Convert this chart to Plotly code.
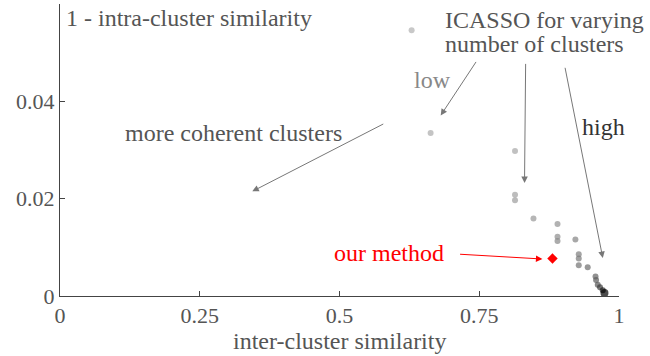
import plotly.graph_objects as go

# ICASSO results for varying number of clusters (low -> high)
icasso_inter = [0.629, 0.663, 0.814, 0.814, 0.814, 0.847, 0.890, 0.890, 0.890,
                0.922, 0.928, 0.928, 0.928, 0.944, 0.958, 0.959, 0.962, 0.966,
                0.971, 0.974]
icasso_intra = [0.0546, 0.0335, 0.0298, 0.0208, 0.0197, 0.0159, 0.0148, 0.0122,
                0.0113, 0.0116, 0.0086, 0.0077, 0.0063, 0.0059, 0.0040, 0.0033,
                0.0023, 0.0018, 0.0012, 0.0006]
our_inter = [0.881]
our_intra = [0.0077]

x_ticks = [0, 0.25, 0.5, 0.75, 1]
x_tick_labels = ["0", "0.25", "0.5", "0.75", "1"]
y_ticks = [0, 0.02, 0.04]
y_tick_labels = ["0", "0.02", "0.04"]

FONT = "Liberation Serif"
TXT = 24
n = len(icasso_inter)
shade = [i / (n - 1) for i in range(n)]
sizes = [6] * (n - 1) + [8]

fig = go.Figure()
fig.add_trace(go.Scatter(
    x=icasso_inter, y=icasso_intra, mode="markers",
    marker=dict(size=sizes, color=shade,
                colorscale=[[0, "#b0b0b0"], [0.6, "#777777"], [0.85, "#555555"], [1, "#000000"]],
                line=dict(width=0)),
    showlegend=False, cliponaxis=False))
fig.add_trace(go.Scatter(
    x=our_inter, y=our_intra, mode="markers",
    marker=dict(symbol="diamond", size=8, color="#ff0000", line=dict(width=0)),
    showlegend=False))

grey = "#555555"
arrow_grey = "#777777"
anns = [
    dict(x=0.008, y=0.0572, text="1 - intra-cluster similarity", xanchor="left", font=dict(color=grey)),
    dict(x=0.685, y=0.0568, text="ICASSO for varying", xanchor="left", font=dict(color=grey)),
    dict(x=0.685, y=0.0517, text="number of clusters", xanchor="left", font=dict(color=grey)),
    dict(x=0.667, y=0.0443, text="low", font=dict(color="#888888")),
    dict(x=0.972, y=0.0347, text="high", font=dict(color="#333333")),
    dict(x=0.3098, y=0.0334, text="more coherent clusters", font=dict(color=grey)),
    dict(x=0.588, y=0.00882, text="our method", font=dict(color="#ff0000")),
    # arrows
    dict(x=0.344, y=0.0215, ax=0.581, ay=0.0355, text=""),
    dict(x=0.681, y=0.0371, ax=0.746, ay=0.0484, text=""),
    dict(x=0.831, y=0.0232, ax=0.833, ay=0.0480, text=""),
    dict(x=0.971, y=0.0078, ax=0.903, ay=0.0472, text=""),
    dict(x=0.863, y=0.0076, ax=0.713, ay=0.0086, text="", arrowcolor="#ff0000"),
]
for a in anns:
    if a.get("text") == "":
        a.update(showarrow=True, axref="x", ayref="y", xref="x", yref="y",
                 arrowhead=2, arrowsize=1.3, arrowwidth=1)
        a.setdefault("arrowcolor", arrow_grey)
    else:
        a.update(xref="x", yref="y", showarrow=False, yanchor="middle")
        a["font"].update(size=TXT, family=FONT)
    fig.add_annotation(**a)

# x-axis title
fig.add_annotation(x=0.5, y=-0.154, xref="x", yref="paper", text="inter-cluster similarity",
                   showarrow=False, xanchor="center", yanchor="middle",
                   font=dict(size=TXT, family=FONT, color=grey))

fig.update_layout(
    width=650, height=356,
    margin=dict(l=59.5, r=30.5, t=4, b=60),
    paper_bgcolor="white", plot_bgcolor="white",
    font=dict(family=FONT, size=22, color=grey),
)
fig.update_xaxes(range=[0, 1], tickvals=x_ticks, ticktext=x_tick_labels,
                 showgrid=False, zeroline=False, showline=True, linecolor="#444444",
                 linewidth=1, ticks="inside", ticklen=5, tickcolor="#444444")
fig.update_yaxes(range=[0, 0.06], tickvals=y_ticks, ticktext=y_tick_labels,
                 showgrid=False, zeroline=False, showline=True, linecolor="#444444",
                 linewidth=1, ticks="inside", ticklen=5, tickcolor="#444444")

fig.write_html("out.html", config={"displayModeBar": False},
               post_script="document.body.style.margin='0px';")
